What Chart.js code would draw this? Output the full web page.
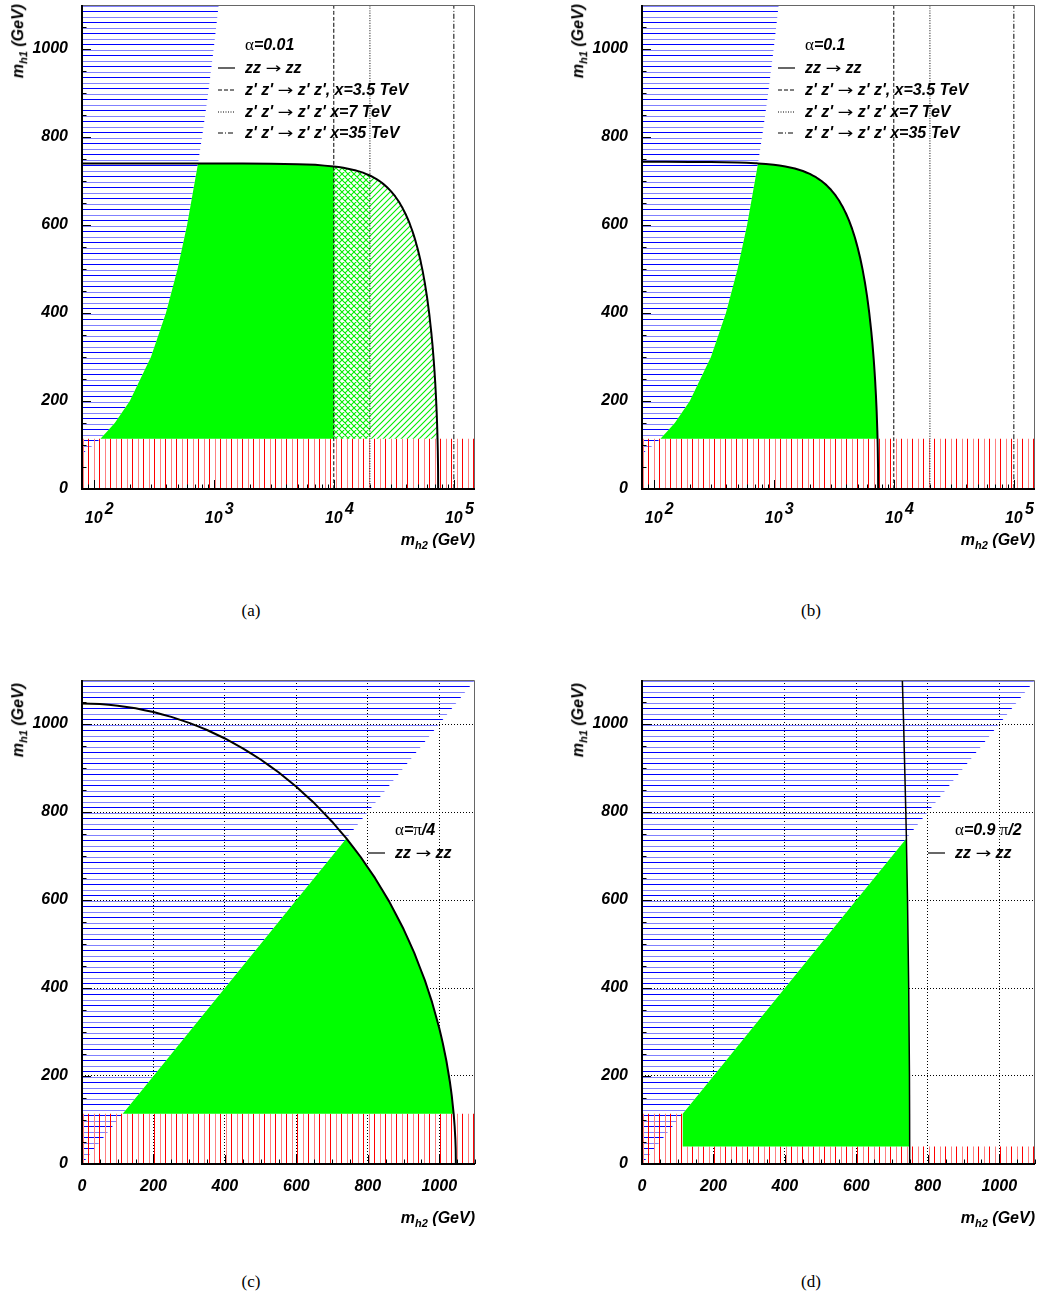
<!DOCTYPE html>
<html>
<head>
<meta charset="utf-8">
<script src="https://cdn.jsdelivr.net/npm/chart.js@4.4.1/dist/chart.umd.min.js"></script>
<style>
body{margin:0;background:#fff;width:1042px;height:1302px;position:relative;overflow:hidden}
canvas{position:absolute}
.t{position:absolute;white-space:nowrap;font:italic bold 16px 'Liberation Sans',Arial,sans-serif;color:#000;line-height:18px}
.s{font-family:'Liberation Serif','DejaVu Serif',serif;font-style:normal;font-weight:normal;font-size:17px}
.ar{font-family:'DejaVu Sans',sans-serif;font-style:normal;font-weight:normal;font-size:15px;display:inline-block;transform:scaleX(1.25);margin:0 6px}
sub{font-size:11px;vertical-align:-4px;line-height:0}
.w{position:absolute;width:0;height:0}
.rot{right:0;top:0;transform-origin:right top;transform:rotate(-90deg)}
.xt{right:0;top:0}
.cap{position:absolute;font:17px 'Liberation Serif','DejaVu Serif',serif;transform:translate(-50%,-50%)}
.row{position:absolute;display:flex;align-items:center;height:18px;white-space:pre;font:italic bold 16px 'Liberation Sans',Arial,sans-serif}
.row svg{width:17px;height:4px;margin-right:10px;flex:none}
</style>
</head>
<body>
<canvas id="ca" width="521" height="540" style="left:0;top:0"></canvas>
<canvas id="cb" width="482" height="540" style="left:560px;top:0"></canvas>
<canvas id="cc" width="521" height="540" style="left:0;top:675px"></canvas>
<canvas id="cd" width="482" height="540" style="left:560px;top:675px"></canvas>

<!-- axis titles -->
<div class="w" style="left:9px;top:4px"><div class="t rot">m<sub>h1</sub> (GeV)</div></div>
<div class="w" style="left:569px;top:4px"><div class="t rot">m<sub>h1</sub> (GeV)</div></div>
<div class="w" style="left:9px;top:683px"><div class="t rot">m<sub>h1</sub> (GeV)</div></div>
<div class="w" style="left:569px;top:683px"><div class="t rot">m<sub>h1</sub> (GeV)</div></div>
<div class="w" style="left:475px;top:531px"><div class="t xt">m<sub>h2</sub> (GeV)</div></div>
<div class="w" style="left:1035px;top:531px"><div class="t xt">m<sub>h2</sub> (GeV)</div></div>
<div class="w" style="left:475px;top:1209px"><div class="t xt">m<sub>h2</sub> (GeV)</div></div>
<div class="w" style="left:1035px;top:1209px"><div class="t xt">m<sub>h2</sub> (GeV)</div></div>

<!-- legends -->
<div class="row" style="left:218px;top:36px"><svg></svg><span class="s">α</span>=0.01</div>
<div class="row" style="left:218px;top:59px"><svg><line x1="0" y1="2" x2="17" y2="2" stroke="#000" stroke-width="1.2"/></svg>zz<span class="ar">→</span>zz</div>
<div class="row" style="left:218px;top:81px"><svg><line x1="0" y1="2" x2="17" y2="2" stroke="#000" stroke-dasharray="4 2"/></svg>z' z'<span class="ar">→</span>z' z', x=3.5 TeV</div>
<div class="row" style="left:218px;top:103px"><svg><line x1="0" y1="2" x2="17" y2="2" stroke="#000" stroke-dasharray="1 1.5"/></svg>z' z'<span class="ar">→</span>z' z' x=7 TeV</div>
<div class="row" style="left:218px;top:124px"><svg><line x1="0" y1="2" x2="17" y2="2" stroke="#000" stroke-dasharray="5 2 1 2"/></svg>z' z'<span class="ar">→</span>z' z' x=35 TeV</div>

<div class="row" style="left:778px;top:36px"><svg></svg><span class="s">α</span>=0.1</div>
<div class="row" style="left:778px;top:59px"><svg><line x1="0" y1="2" x2="17" y2="2" stroke="#000" stroke-width="1.2"/></svg>zz<span class="ar">→</span>zz</div>
<div class="row" style="left:778px;top:81px"><svg><line x1="0" y1="2" x2="17" y2="2" stroke="#000" stroke-dasharray="4 2"/></svg>z' z'<span class="ar">→</span>z' z', x=3.5 TeV</div>
<div class="row" style="left:778px;top:103px"><svg><line x1="0" y1="2" x2="17" y2="2" stroke="#000" stroke-dasharray="1 1.5"/></svg>z' z'<span class="ar">→</span>z' z' x=7 TeV</div>
<div class="row" style="left:778px;top:124px"><svg><line x1="0" y1="2" x2="17" y2="2" stroke="#000" stroke-dasharray="5 2 1 2"/></svg>z' z'<span class="ar">→</span>z' z' x=35 TeV</div>

<div class="row" style="left:368px;top:821px"><svg></svg><span class="s">α</span>=<span class="s">π</span>/4</div>
<div class="row" style="left:368px;top:844px"><svg><line x1="0" y1="2" x2="17" y2="2" stroke="#000" stroke-width="1.2"/></svg>zz<span class="ar">→</span>zz</div>
<div class="row" style="left:928px;top:821px"><svg></svg><span class="s">α</span>=0.9<span class="s"> π</span>/2</div>
<div class="row" style="left:928px;top:844px"><svg><line x1="0" y1="2" x2="17" y2="2" stroke="#000" stroke-width="1.2"/></svg>zz<span class="ar">→</span>zz</div>

<!-- captions -->
<div class="cap" style="left:251px;top:611px">(a)</div>
<div class="cap" style="left:811px;top:611px">(b)</div>
<div class="cap" style="left:251px;top:1282px">(c)</div>
<div class="cap" style="left:811px;top:1282px">(d)</div>

<script>
// ---------- data (GeV) ----------
const lepBound = 114          // lower m_h1 limit (red hatch)
const lepBoundD = 40          // panel (d) limit for m_h2 > 114
const logRange = [80, 150000]
const linRange = [0, 1100]
const yRange = [0, 1100]
const yTicks = [0, 200, 400, 600, 800, 1000]
const xLinTicks = [0, 200, 400, 600, 800, 1000]
const logTicks = [100, 1000, 10000, 100000]
const logTickExp = ['2', '3', '4', '5']
const zpLines = [10000, 20000, 100000]   // x = 3.5, 7, 35 TeV
const diagM = [80, 100, 114, 150, 200, 300, 400, 500, 600, 740, 800, 900, 1000, 1100]  // m_h1 = m_h2 edge

// alpha = 0.01
const curveA_mh2 = [80, 1000, 3000, 5000, 7000, 10000, 12000, 15000, 17500, 20000, 22500, 25000, 27500, 30000, 32500, 35000, 37500,
  40000, 42500, 45000, 47500, 50000, 52500, 55000, 57500, 60000, 62500, 65000, 66500, 68000, 69000, 70000, 71000, 72000, 72500,
  73100, 73500, 73800, 73900, 74000]
const curveA_mh1 = [740, 740, 739.4, 738.3, 736.7, 733.2, 730.2, 724.6, 719.0, 712.5, 705.0, 696.5, 687.0, 676.5, 664.8, 652.0, 637.9,
  622.6, 605.8, 587.5, 567.4, 545.5, 521.5, 495.1, 465.8, 433.1, 396.2, 353.7, 324.6, 291.9, 267.4, 240.0, 208.6, 170.9, 148.2,
  115.1, 85.9, 54.4, 38.5, 0]
// alpha = 0.1
const curveB_mh2 = [80, 200, 300, 500, 700, 740, 1000, 1250, 1500, 1750, 2000, 2250, 2500, 2750, 3000, 3250, 3500, 3750, 4000, 4250,
  4500, 4750, 5000, 5250, 5500, 5750, 6000, 6250, 6500, 6650, 6800, 6900, 7000, 7100, 7200, 7300, 7325, 7350, 7400, 7412]
const curveB_mh1 = [743.7, 743.4, 743.1, 742.0, 740.4, 740.0, 736.9, 733.1, 728.3, 722.7, 716.1, 708.6, 700.1, 690.6, 680.1, 668.4,
  655.6, 641.5, 626.1, 609.3, 591.0, 570.9, 549.0, 525.0, 498.6, 469.3, 436.7, 399.8, 357.4, 328.5, 296.0, 271.7, 244.6, 213.6,
  176.7, 128.9, 114, 96.2, 42.7, 0]
// alpha = pi/4
const curveC_mh2 = [0, 50, 100, 150, 200, 250, 300, 350, 400, 450, 500, 550, 600, 650, 700, 740, 780, 820, 860, 900, 930, 960, 980,
  1000, 1010, 1020, 1030, 1035, 1040.3, 1043, 1045, 1046, 1046.5]
const curveC_mh1 = [1046.5, 1045.3, 1041.7, 1035.7, 1027.2, 1016.2, 1002.6, 986.3, 967.1, 944.8, 919.3, 890.3, 857.4, 820.2, 777.9,
  740, 697.7, 650.2, 596.3, 534.0, 479.9, 416.7, 367.2, 308.5, 274.0, 234.1, 185.2, 154.8, 114, 85.7, 56.3, 32.9, 0]
// alpha = 0.9 pi/2
const curveD_mh2 = [749.2, 749.2, 749.0, 748.6, 746.5, 743.2, 740.0, 738.4, 732.3, 728.7]
const curveD_mh1 = [0, 40, 114, 200, 400, 600, 740, 800, 1000, 1100]

// ---------- helpers ----------
function zip(xs, ys) { return xs.map((x, i) => ({x: x, y: ys[i]})) }
const diagPts = diagM.map(v => ({x: v, y: v}))

function hatch(kind) {
  const cv = document.createElement('canvas')
  const g = cv.getContext('2d')
  if (kind === 'h') {
    cv.width = 8; cv.height = 11
    g.fillStyle = '#0000ff'; g.fillRect(0, 0, 8, 1)
    g.fillStyle = '#8080ff'; g.fillRect(0, 6, 8, 1)
  } else if (kind === 'v') {
    cv.width = 11; cv.height = 8
    g.fillStyle = '#ff0000'; g.fillRect(0, 0, 1, 8)
    g.fillStyle = '#ff8080'; g.fillRect(6, 0, 1, 8)
  } else {
    cv.width = 6; cv.height = 6
    g.strokeStyle = '#00ee00'; g.lineWidth = 1.1
    g.beginPath()
    g.moveTo(0, 6); g.lineTo(6, 0); g.moveTo(-1, 1); g.lineTo(1, -1); g.moveTo(5, 7); g.lineTo(7, 5)
    if (kind === 'x') {
      g.moveTo(0, 0); g.lineTo(6, 6); g.moveTo(-1, 5); g.lineTo(1, 7); g.moveTo(5, -1); g.lineTo(7, 1)
    }
    g.stroke()
  }
  return g.createPattern(cv, 'repeat')
}
const blueHatch = hatch('h'), redHatch = hatch('v'), greenDiag = hatch('d'), greenCross = hatch('x')
const GREEN = '#00ff00'

function area(data, color, order) {
  return {data: data, showLine: true, fill: 'shape', backgroundColor: color, borderColor: 'rgba(0,0,0,0)',
    borderWidth: 1, pointRadius: 0, order: order}
}
// tiny tension keeps Chart.js off its pixel-merging fast path (it left a notch on steep curves)
function line(data, dash, width, order) {
  return {data: data, showLine: true, fill: false, borderColor: '#000', borderWidth: width,
    borderDash: dash, borderJoinStyle: 'round', tension: 0.001, pointRadius: 0, order: order}
}

// inward ROOT style ticks and frame
const rootAxes = {
  id: 'rootAxes',
  afterDatasetsDraw(chart) {
    const {ctx, chartArea: a, scales} = chart
    const x = scales.x, y = scales.y
    ctx.save()
    ctx.strokeStyle = '#000'; ctx.lineWidth = 1
    ctx.beginPath()
    for (let v = yRange[0]; v <= yRange[1]; v += 50) {
      const py = Math.round(y.getPixelForValue(v)) + 0.5
      ctx.moveTo(a.left, py); ctx.lineTo(a.left + (v % 200 === 0 ? 9 : 4.5), py)
    }
    if (x.type === 'logarithmic') {
      for (let d = 10; d <= 100000; d *= 10) {
        for (let k = 1; k <= 9; k++) {
          const v = k * d
          if (v < x.min || v > x.max) continue
          const px = Math.round(x.getPixelForValue(v)) + 0.5
          ctx.moveTo(px, a.bottom); ctx.lineTo(px, a.bottom - (k === 1 ? 9 : 4.5))
        }
      }
    } else {
      for (let v = linRange[0]; v <= linRange[1]; v += 50) {
        const px = Math.round(x.getPixelForValue(v)) + 0.5
        ctx.moveTo(px, a.bottom); ctx.lineTo(px, a.bottom - (v % 200 === 0 ? 9 : 4.5))
      }
    }
    ctx.stroke()
    ctx.strokeStyle = '#666'; ctx.lineWidth = 1
    ctx.beginPath()
    ctx.moveTo(a.left, a.top + 0.5); ctx.lineTo(a.right - 0.5, a.top + 0.5); ctx.lineTo(a.right - 0.5, a.bottom)
    ctx.stroke()
    ctx.strokeStyle = '#000'; ctx.lineWidth = 2
    ctx.beginPath()
    ctx.moveTo(a.left, a.top); ctx.lineTo(a.left, a.bottom); ctx.lineTo(a.right, a.bottom)
    ctx.stroke()
    ctx.restore()
  }
}

const tickFont = {family: "'Liberation Sans', Arial, sans-serif", size: 16, style: 'italic', weight: 'bold'}
const logFont = Object.assign({}, tickFont, {lineHeight: 0.55})

function fixX(s) { s.height = 51; s.paddingLeft = 0; s.paddingRight = 0 }
function fixY(s) { s.width = 82; s.paddingTop = 0; s.paddingBottom = 0 }

function makeChart(id, datasets, logX, padRight) {
  const grid = logX ? {display: false, drawTicks: false} : {color: '#000', lineWidth: 1, drawTicks: false}
  const xScale = logX ? {
    type: 'logarithmic', min: logRange[0], max: logRange[1], bounds: 'data',
    afterBuildTicks: s => { s.ticks = logTicks.map(v => ({value: v, major: true})) },
    ticks: {font: logFont, color: '#000', padding: 16, autoSkip: false, maxRotation: 0,
      callback: v => ['       ' + logTickExp[logTicks.indexOf(v)], '10']},
    grid: grid, border: {display: false},
    afterFit: fixX
  } : {
    type: 'linear', min: linRange[0], max: linRange[1], bounds: 'data',
    afterBuildTicks: s => { s.ticks = xLinTicks.map(v => ({value: v})) },
    ticks: {font: tickFont, color: '#000', padding: 13, autoSkip: false, maxRotation: 0, callback: v => String(v)},
    grid: grid, border: {display: false, dash: [1, 2]},
    afterFit: fixX
  }
  return new Chart(document.getElementById(id), {
    type: 'scatter',
    data: {datasets: datasets},
    options: {
      responsive: false, animation: false, devicePixelRatio: 1,
      layout: {padding: {top: 5, right: padRight, left: 0, bottom: 0}},
      plugins: {legend: {display: false}, tooltip: {enabled: false}},
      scales: {
        x: xScale,
        y: {
          type: 'linear', min: yRange[0], max: yRange[1], bounds: 'data',
          afterBuildTicks: s => { s.ticks = yTicks.map(v => ({value: v})) },
          ticks: {font: tickFont, color: '#000', padding: 14, callback: v => String(v)},
          grid: grid, border: {display: false, dash: [1, 2]},
          afterFit: fixY
        }
      }
    },
    plugins: [rootAxes]
  })
}

// ---------- regions ----------
const curveA = zip(curveA_mh2, curveA_mh1)
const curveB = zip(curveB_mh2, curveB_mh1)
const curveC = zip(curveC_mh2, curveC_mh1)
const curveD = zip(curveD_mh2, curveD_mh1)

const diagLow = diagPts.filter(p => p.x >= lepBound && p.x <= 740)
const blueLog = diagPts.concat([{x: logRange[0], y: yRange[1]}])
const blueLin = [{x: 0, y: 0}].concat(diagPts, [{x: 0, y: yRange[1]}])
const redLog = [{x: logRange[0], y: 0}, {x: logRange[0], y: lepBound}, {x: logRange[1], y: lepBound}, {x: logRange[1], y: 0}]
const redC = [{x: 0, y: 0}, {x: 0, y: lepBound}, {x: linRange[1], y: lepBound}, {x: linRange[1], y: 0}]
const redD = [{x: 0, y: 0}, {x: 0, y: lepBound}, {x: lepBound, y: lepBound}, {x: lepBound, y: lepBoundD},
  {x: linRange[1], y: lepBoundD}, {x: linRange[1], y: 0}]

function vLines() {
  const dashes = [[4, 2], [1, 1.5], [5, 2, 1, 2]]
  return zpLines.map((v, i) => line([{x: v, y: yRange[0]}, {x: v, y: yRange[1]}], dashes[i], 1, 0))
}

// (a)
const greenA = diagLow.concat(curveA.filter(p => p.x > 740 && p.x <= zpLines[0]), [{x: zpLines[0], y: lepBound}])
const crossA = [{x: zpLines[0], y: lepBound}].concat(curveA.filter(p => p.x >= zpLines[0] && p.x <= zpLines[1]), [{x: zpLines[1], y: lepBound}])
const tailA = curveA.filter(p => p.x >= zpLines[1] && p.y >= lepBound)
const hatchA = [{x: zpLines[1], y: lepBound}].concat(tailA, [{x: tailA[tailA.length - 1].x, y: lepBound}])
makeChart('ca', [
  line(curveA, [], 2, 0),
  ...vLines(),
  area(greenA, GREEN, 1),
  area(crossA, greenCross, 1),
  area(hatchA, greenDiag, 1),
  area(redLog, redHatch, 2),
  area(blueLog, blueHatch, 3)
], true, 46)

// (b)
const greenB = diagLow.concat(curveB.filter(p => p.x > 740 && p.y >= lepBound))
makeChart('cb', [
  line(curveB, [], 2, 0),
  ...vLines(),
  area(greenB, GREEN, 1),
  area(redLog, redHatch, 2),
  area(blueLog, blueHatch, 3)
], true, 7)

// (c)
const greenC = diagLow.concat(curveC.filter(p => p.x > 740 && p.y >= lepBound))
makeChart('cc', [
  line(curveC, [], 2, 0),
  area(greenC, GREEN, 1),
  area(redC, redHatch, 2),
  area(blueLin, blueHatch, 3)
], false, 46)

// (d)
const greenD = [{x: lepBound, y: lepBoundD}].concat(diagLow,
  curveD.filter(p => p.y <= 740 && p.y >= lepBoundD).reverse())
makeChart('cd', [
  line(curveD, [], 1.5, 0),
  area(greenD, GREEN, 1),
  area(redD, redHatch, 2),
  area(blueLin, blueHatch, 3)
], false, 7)
</script>
</body>
</html>
